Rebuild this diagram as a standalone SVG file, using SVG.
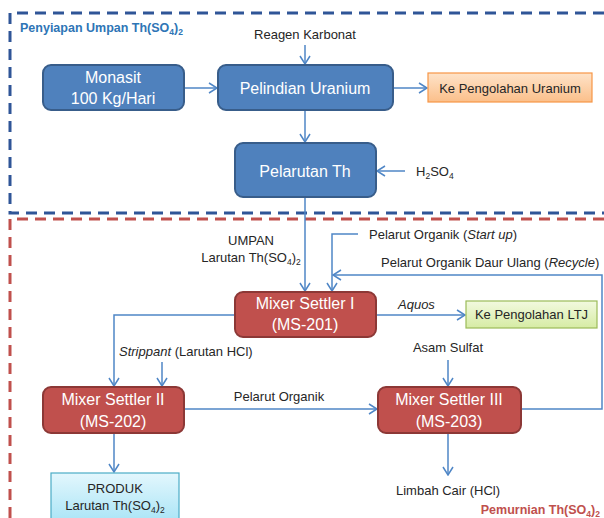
<svg xmlns="http://www.w3.org/2000/svg" width="604" height="518" viewBox="0 0 604 518">
<style>
text{font-family:"Liberation Sans",Arial,sans-serif;fill:#262626;font-size:13px}
.bt{fill:#fff;font-size:16px;text-anchor:middle}
.c{text-anchor:middle}
.blue{fill:#4f81bd;stroke:#385d8a;stroke-width:2}
.red{fill:#c0504d;stroke:#8c3836;stroke-width:2}
.conn{fill:none;stroke:#4f86c6;stroke-width:1.5}
.dash{fill:none;stroke-width:3;stroke-dasharray:11,7}
</style>
<defs>
<marker id="arr" markerWidth="10" markerHeight="12" refX="9" refY="6" orient="auto" markerUnits="userSpaceOnUse">
<path d="M1,1 L9,6 L1,11" fill="none" stroke="#4f86c6" stroke-width="1.5"/>
</marker>
<linearGradient id="gOr" x1="0" y1="0" x2="0" y2="1"><stop offset="0" stop-color="#fee3c9"/><stop offset="1" stop-color="#fbbf8a"/></linearGradient>
<linearGradient id="gGr" x1="0" y1="0" x2="0" y2="1"><stop offset="0" stop-color="#f2f9df"/><stop offset="1" stop-color="#d6eca4"/></linearGradient>
<linearGradient id="gCy" x1="0" y1="0" x2="0" y2="1"><stop offset="0" stop-color="#e3f7fd"/><stop offset="1" stop-color="#a9e4f6"/></linearGradient>
</defs>
<g id="regions">
<path class="dash" stroke="#2f5597" d="M604,13 H10 V213 H604"/>
<path class="dash" stroke="#c0504d" d="M604,219 H10 V518"/>
<text x="20" y="32" font-weight="bold" style="fill:#2e75b6;font-size:12.5px">Penyiapan Umpan Th(SO<tspan font-size="8.5" dy="3">4</tspan><tspan dy="-3">)</tspan><tspan font-size="8.5" dy="3">2</tspan></text>
<text x="600" y="514" text-anchor="end" font-weight="bold" style="fill:#c0504d;font-size:12.5px">Pemurnian Th(SO<tspan font-size="8.5" dy="3">4</tspan><tspan dy="-3">)</tspan><tspan font-size="8.5" dy="3">2</tspan></text>
</g>
<g id="connectors">
<path class="conn" d="M184,88 H217" marker-end="url(#arr)"/>
<path class="conn" d="M393,88 H427" marker-end="url(#arr)"/>
<path class="conn" d="M305,45 V64" marker-end="url(#arr)"/>
<path class="conn" d="M305,110 V142" marker-end="url(#arr)"/>
<path class="conn" d="M405,171 H377" marker-end="url(#arr)"/>
<path class="conn" d="M305,197 V291" marker-end="url(#arr)"/>
<path class="conn" d="M358,234 H332 V291" marker-end="url(#arr)"/>
<path class="conn" d="M521,409 H602 V275 H333" marker-end="url(#arr)"/>
<path class="conn" d="M376,315 H465" marker-end="url(#arr)"/>
<path class="conn" d="M235,315 H114 V386" marker-end="url(#arr)"/>
<path class="conn" d="M162,362 V386" marker-end="url(#arr)"/>
<path class="conn" d="M184,409 H377" marker-end="url(#arr)"/>
<path class="conn" d="M448,360 V386" marker-end="url(#arr)"/>
<path class="conn" d="M448,433 V475" marker-end="url(#arr)"/>
<path class="conn" d="M114,433 V472" marker-end="url(#arr)"/>
</g>
<g id="labels">
<text x="305" y="39" class="c">Reagen Karbonat</text>
<text x="416" y="176">H<tspan font-size="8.5" dy="3">2</tspan><tspan dy="-3">SO</tspan><tspan font-size="8.5" dy="3">4</tspan></text>
<text x="251" y="245" class="c">UMPAN</text>
<text x="251" y="262" class="c">Larutan Th(SO<tspan font-size="8.5" dy="3">4</tspan><tspan dy="-3">)</tspan><tspan font-size="8.5" dy="3">2</tspan></text>
<text x="369" y="239">Pelarut Organik (<tspan font-style="italic">Start up</tspan>)</text>
<text x="381" y="267">Pelarut Organik Daur Ulang (<tspan font-style="italic">Recycle</tspan>)</text>
<text x="398" y="309" font-style="italic">Aquos</text>
<text x="119" y="356"><tspan font-style="italic">Strippant</tspan> (Larutan HCl)</text>
<text x="448" y="352" class="c">Asam Sulfat</text>
<text x="279" y="401" class="c">Pelarut Organik</text>
<text x="448" y="495" class="c">Limbah Cair (HCl)</text>
</g>
<g id="monasit">
<rect class="blue" x="43" y="65" width="141" height="45" rx="8"/>
<text class="bt" x="113" y="83">Monasit</text>
<text class="bt" x="113" y="104">100 Kg/Hari</text>
</g>
<g id="pelindian">
<rect class="blue" x="218" y="65" width="175" height="45" rx="8"/>
<text class="bt" x="305" y="94">Pelindian Uranium</text>
</g>
<g id="ke-uranium">
<rect x="428" y="73" width="164" height="29" fill="url(#gOr)" stroke="#f79646" stroke-width="1.2"/>
<text class="c" x="510" y="92.5">Ke Pengolahan Uranium</text>
</g>
<g id="pelarutan">
<rect class="blue" x="235" y="143" width="141" height="54" rx="8"/>
<text class="bt" x="305" y="177">Pelarutan Th</text>
</g>
<g id="ms201">
<rect class="red" x="235" y="292" width="141" height="45" rx="8"/>
<text class="bt" x="305" y="309">Mixer Settler I</text>
<text class="bt" x="305" y="330">(MS-201)</text>
</g>
<g id="ke-ltj">
<rect x="466" y="301" width="131" height="27" fill="url(#gGr)" stroke="#9bbb59" stroke-width="1.2"/>
<text class="c" x="531.5" y="319">Ke Pengolahan LTJ</text>
</g>
<g id="ms202">
<rect class="red" x="43" y="387" width="141" height="46" rx="8"/>
<text class="bt" x="113" y="405">Mixer Settler II</text>
<text class="bt" x="113" y="427">(MS-202)</text>
</g>
<g id="ms203">
<rect class="red" x="378" y="387" width="143" height="46" rx="8"/>
<text class="bt" x="449" y="405">Mixer Settler III</text>
<text class="bt" x="449" y="427">(MS-203)</text>
</g>
<g id="produk">
<rect x="51" y="473" width="128" height="50" fill="url(#gCy)" stroke="#4bacc6" stroke-width="1.2"/>
<text class="c" x="115" y="493">PRODUK</text>
<text class="c" x="115" y="510">Larutan Th(SO<tspan font-size="8.5" dy="3">4</tspan><tspan dy="-3">)</tspan><tspan font-size="8.5" dy="3">2</tspan></text>
</g>
</svg>
